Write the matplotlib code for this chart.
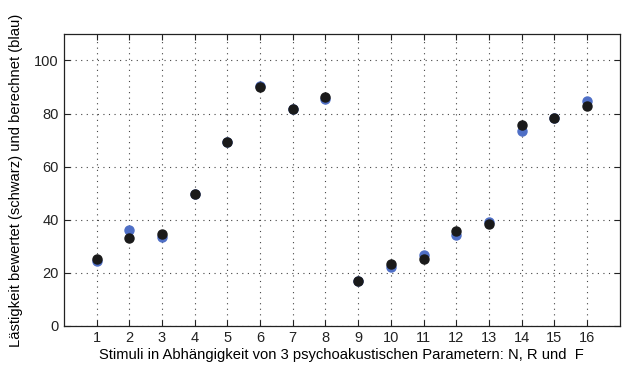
import matplotlib.pyplot as plt
import numpy as np

plt.rcParams['font.family'] = ['Liberation Sans', 'DejaVu Sans']

stimuli = np.arange(1, 17)
bewertet = [25.3, 33.2, 34.5, 49.8, 69.4, 90.1, 81.8, 86.2,
            16.9, 23.2, 25.3, 35.9, 38.5, 75.8, 78.4, 82.8]
berechnet = [24.6, 36.3, 33.4, 49.8, 69.4, 90.4, 81.6, 85.5,
             16.9, 22.3, 26.9, 34.2, 39.0, 73.6, 78.4, 84.9]

fig = plt.figure(figsize=(6.26, 3.65), dpi=100)
ax = fig.add_axes([0.102, 0.107, 0.888, 0.800])

ax.plot(stimuli, berechnet, 'o', color='#4f6fc6', markersize=6.5, zorder=3)
ax.plot(stimuli, bewertet, 'o', color='#1a1a1a', markersize=6.5, zorder=4)

ax.set_xlim(0, 17)
ax.set_ylim(0, 110)
ax.set_xticks(stimuli)
ax.set_yticks(np.arange(0, 101, 20))
ax.grid(True, linestyle=(0, (1, 4)), color='#444444', linewidth=0.8)
ax.tick_params(direction='in', top=True, right=True, labelsize=10.5, length=4,
               colors='#222222')
for s in ax.spines.values():
    s.set_linewidth(0.9)
    s.set_color('#222222')

ax.set_xlabel('Stimuli in Abhängigkeit von 3 psychoakustischen Parametern: N, R und  F',
              fontsize=10.6, labelpad=2)
ax.set_ylabel('Lästigkeit bewertet (schwarz) und berechnet (blau)', fontsize=10.6, labelpad=8)

fig.savefig('out.png', dpi=100)
